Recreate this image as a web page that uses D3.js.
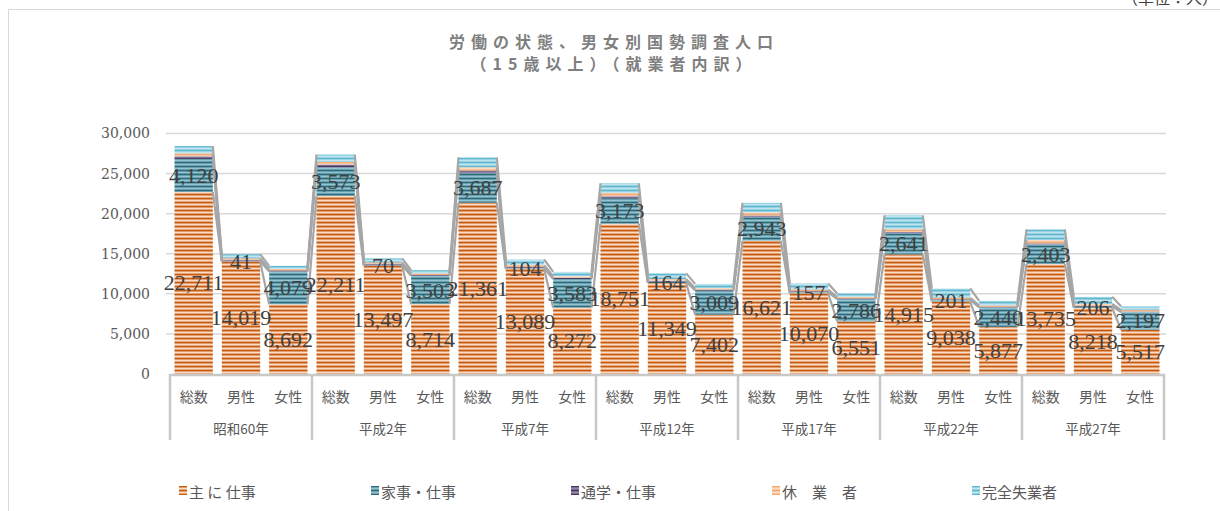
<!DOCTYPE html>
<html><head><meta charset="utf-8">
<script src="https://cdn.jsdelivr.net/npm/d3@7/dist/d3.min.js"></script>
<style>body{margin:0;background:#fff}svg{display:block}</style>
</head><body>
<svg id="c" width="1220" height="511"></svg>
<script>
const groups = ["昭和60年","平成2年","平成7年","平成12年","平成17年","平成22年","平成27年"];
const subs = ["総数","男性","女性"];
const seriesNames = ["主 に 仕事","家事・仕事","通学・仕事","休　業　者","完全失業者"];
const mainWork   = [22711,14019,8692, 22211,13497,8714, 21361,13089,8272, 18751,11349,7402, 16621,10070,6551, 14915,9038,5877, 13735,8218,5517];
const houseWork  = [4120,41,4079, 3573,70,3503, 3687,104,3583, 3173,164,3009, 2943,157,2786, 2641,201,2440, 2403,206,2197];
const schoolWork = [320,170,150, 350,190,160, 330,180,150, 250,130,120, 200,110,90, 160,90,70, 150,80,70];
const leave      = [380,200,180, 330,160,170, 400,210,190, 400,210,190, 380,200,180, 350,180,170, 420,230,190];
const unemployed = [900,510,390, 900,500,400, 1240,700,540, 1220,700,520, 1200,760,440, 1730,1160,570, 1330,890,440];
const yTicks = [0,5000,10000,15000,20000,25000,30000];

const svg = d3.select("#c");
const L = 170, R = 1164, T = 133.5, B = 374;
const cats = [];
groups.forEach((g,gi)=>subs.forEach((s,si)=>cats.push({g,s,key:gi*3+si})));
const x = d3.scaleBand().domain(cats.map(c=>c.key)).range([L,R]).paddingInner(0.19).paddingOuter(0.095);
const y = d3.scaleLinear().domain([0,30000]).range([B,T]);
const fmt = d3.format(",");

// patterns
const defs = svg.append("defs");
const pats = [
  {id:"p0", c:["#C55A11","#E38A4C","#FADCC6","#E08443"]},
  {id:"p1", c:["#2B6B7C","#3F8799","#7DBACA","#3A8093"]},
  {id:"p2", c:["#453462","#574477","#7A6A98","#514070"]},
  {id:"p3", c:["#F4A972","#F6B98B","#FAD3B5","#F5B27F"]},
  {id:"p4", c:["#5DB8D0","#7CC7DA","#B7E2EE","#74C2D7"]}
];
pats.forEach(p=>{
  const pt = defs.append("pattern").attr("id",p.id).attr("patternUnits","userSpaceOnUse")
    .attr("width",10).attr("height",4).attr("y",B);
  pt.append("rect").attr("width",10).attr("height",1.5).attr("y",0).attr("fill",p.c[0]);
  pt.append("rect").attr("width",10).attr("height",0.8).attr("y",1.5).attr("fill",p.c[1]);
  pt.append("rect").attr("width",10).attr("height",1.0).attr("y",2.3).attr("fill",p.c[2]);
  pt.append("rect").attr("width",10).attr("height",0.7).attr("y",3.3).attr("fill",p.c[3]);
});

// border & unit
svg.append("rect").attr("x",8.5).attr("y",9.5).attr("width",1230).attr("height",520)
  .attr("fill","none").attr("stroke","#d9d9d9").attr("stroke-width",1);
svg.append("text").attr("x",1218).attr("y",4).attr("text-anchor","end")
  .attr("font-family","Noto Sans CJK JP").attr("font-size",16).attr("fill","#404040").text("（単位：人）");

// title
const title = svg.append("g").attr("font-family","Noto Sans CJK JP").attr("font-weight","bold")
  .attr("font-size",16).attr("fill","#7f7f7f").attr("text-anchor","middle").attr("letter-spacing","6px");
title.append("text").attr("x",614).attr("y",48).text("労働の状態、男女別国勢調査人口");
title.append("text").attr("x",614).attr("y",70).text("（15歳以上）（就業者内訳）");

// grid
svg.append("g").selectAll("line").data(yTicks.slice(1)).join("line")
  .attr("x1",L-4).attr("x2",R+2).attr("y1",d=>y(d)).attr("y2",d=>y(d))
  .attr("stroke","#d9d9d9").attr("stroke-width",1.5);

// y axis
const ya = svg.append("g").attr("transform",`translate(${L-4},0)`)
  .call(d3.axisLeft(y).tickValues(yTicks).tickFormat(fmt).tickSize(0).tickPadding(16));
ya.select(".domain").remove();
ya.attr("font-family","DejaVu Serif").attr("font-size",14);
ya.selectAll("text").attr("fill","#595959");

// stack
const seriesData = [mainWork,houseWork,schoolWork,leave,unemployed];
const rows = cats.map((c,i)=>{const o={key:c.key}; seriesData.forEach((s,si)=>o["s"+si]=s[i]); return o;});
const stack = d3.stack().keys(["s0","s1","s2","s3","s4"])(rows);

const bars = svg.append("g");
stack.forEach((layer,li)=>{
  bars.append("g").attr("fill",`url(#p${li})`).selectAll("rect").data(layer).join("rect")
    .attr("x",d=>x(d.data.key)).attr("width",x.bandwidth())
    .attr("y",d=>y(d[1])).attr("height",d=>y(d[0])-y(d[1]));
});

// series lines
const sl = svg.append("g").attr("stroke","#a6a6a6").attr("stroke-width",2.2).attr("fill","none");
stack.forEach(layer=>{
  for(let i=0;i<layer.length-1;i++){
    const a=layer[i], b=layer[i+1];
    sl.append("line").attr("x1",x(a.data.key)+x.bandwidth()).attr("y1",y(a[1]))
      .attr("x2",x(b.data.key)).attr("y2",y(b[1]));
  }
});

// data labels for first two series
const lab = svg.append("g").attr("font-family","Liberation Serif").attr("font-size",22)
  .attr("fill","#404040").attr("text-anchor","middle").attr("dominant-baseline","central");
[0,1].forEach(li=>{
  lab.selectAll(null).data(stack[li]).join("text")
    .attr("x",d=>x(d.data.key)+x.bandwidth()/2).attr("y",d=>(y(d[0])+y(d[1]))/2)
    .text(d=>fmt(d[1]-d[0]));
});

// x axis
const ax = svg.append("g").attr("stroke","#c8c8c8").attr("stroke-width",2.5);
ax.append("line").attr("x1",L-1).attr("x2",R+1).attr("y1",B+1).attr("y2",B+1);
const step = (R-L)/21*3;
d3.range(8).forEach(i=>{
  ax.append("line").attr("x1",L+i*step).attr("x2",L+i*step).attr("y1",B).attr("y2",440);
});
svg.append("g").attr("font-family","Noto Sans CJK JP").attr("font-size",14).attr("fill","#595959")
  .attr("text-anchor","middle").attr("dominant-baseline","central")
  .selectAll("text").data(cats).join("text")
  .attr("x",d=>x(d.key)+x.bandwidth()/2).attr("y",396).text(d=>d.s);
svg.append("g").attr("font-family","Noto Sans CJK JP").attr("font-size",13.5).attr("fill","#595959")
  .attr("text-anchor","middle").attr("dominant-baseline","central")
  .selectAll("text").data(groups).join("text")
  .attr("x",(d,i)=>L+(i+0.5)*step).attr("y",428).text(d=>d);

// legend
const legX = [179,371,571,772,972];
const lg = svg.append("g").attr("font-family","Noto Sans CJK JP").attr("font-size",15).attr("fill","#595959");
seriesNames.forEach((n,i)=>{
  lg.append("rect").attr("x",legX[i]).attr("y",486).attr("width",8).attr("height",9).attr("fill",`url(#p${i})`);
  lg.append("text").attr("x",legX[i]+10).attr("y",491).attr("dominant-baseline","central").text(n);
});
</script>
</body></html>
